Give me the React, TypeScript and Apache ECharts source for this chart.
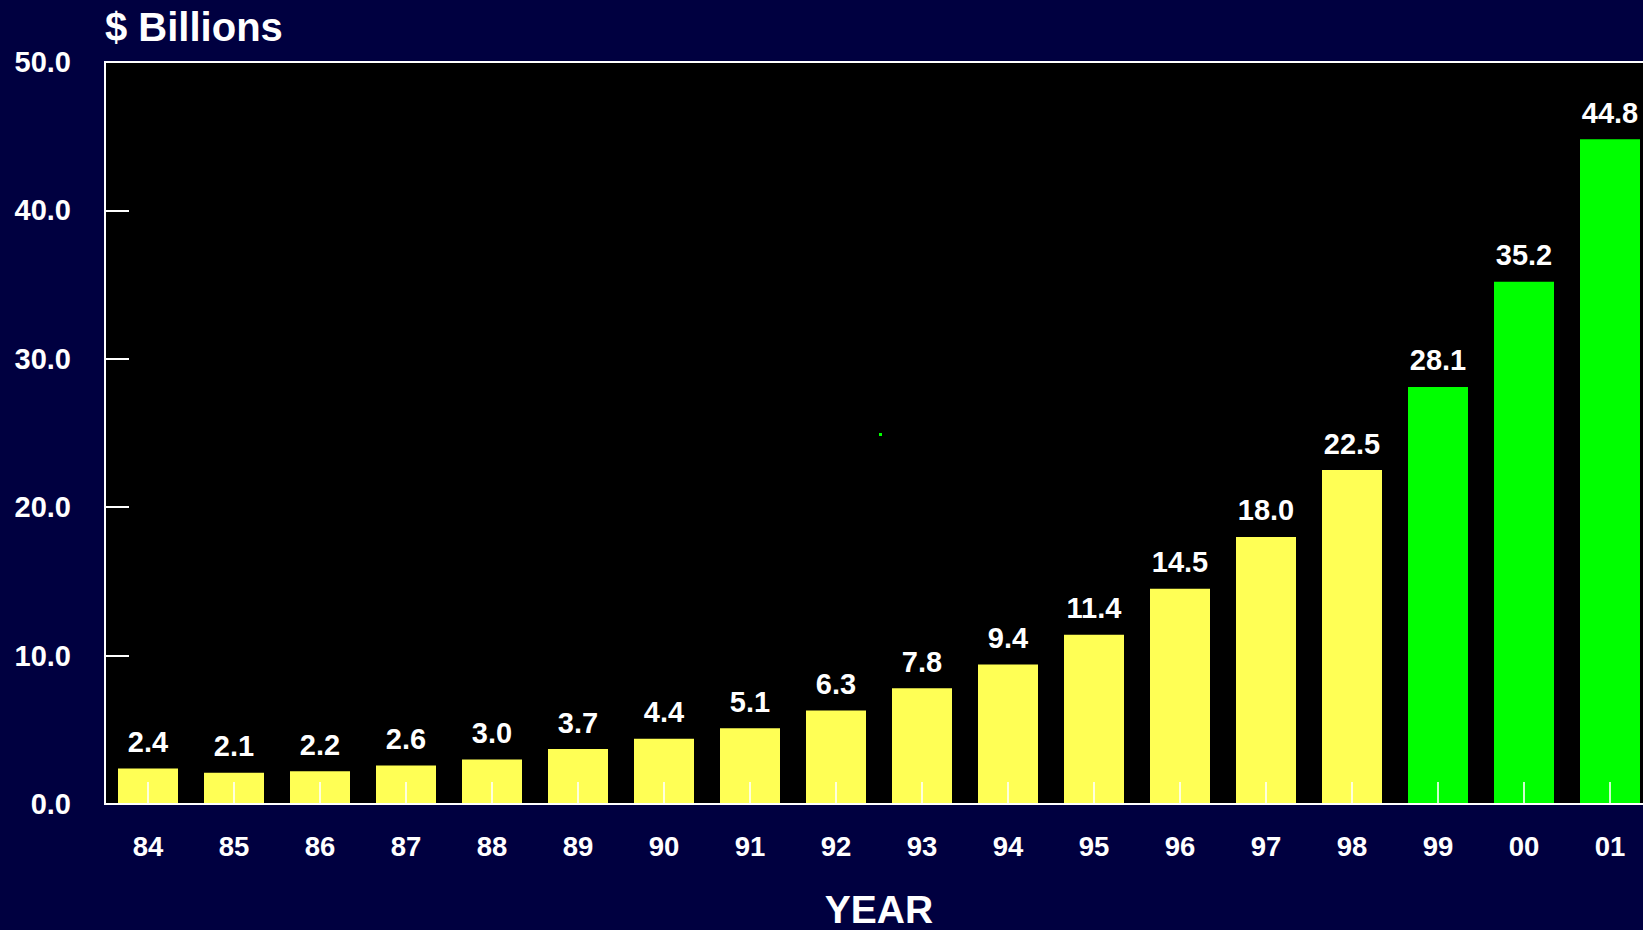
import React, { useEffect, useRef } from "react";
import * as echarts from "echarts";

const years = ["84", "85", "86", "87", "88", "89", "90", "91", "92", "93", "94", "95", "96", "97", "98", "99", "00", "01"];
const values = [2.4, 2.1, 2.2, 2.6, 3.0, 3.7, 4.4, 5.1, 6.3, 7.8, 9.4, 11.4, 14.5, 18.0, 22.5, 28.1, 35.2, 44.8];
const barColors = ["#FFFF55", "#FFFF55", "#FFFF55", "#FFFF55", "#FFFF55", "#FFFF55", "#FFFF55", "#FFFF55", "#FFFF55", "#FFFF55", "#FFFF55", "#FFFF55", "#FFFF55", "#FFFF55", "#FFFF55", "#00FF00", "#00FF00", "#00FF00"];
const yTitle = "$ Billions";
const xTitle = "YEAR";

const FONT = "'Liberation Sans', Arial, Helvetica, sans-serif";

export default function App() {
  const ref = useRef<HTMLDivElement>(null);
  useEffect(() => {
    document.body.style.margin = "0";
    document.body.style.overflow = "hidden";
    const chart = echarts.init(ref.current!, null, { renderer: "svg" });
    chart.setOption({
      animation: false,
      backgroundColor: "#000040",
      grid: {
        left: 105,
        top: 62,
        bottom: 126,
        right: 7,
        show: true,
        backgroundColor: "#000000",
        borderColor: "#ffffff",
        borderWidth: 2,
      },
      xAxis: {
        type: "category",
        data: years,
        z: 5,
        axisLine: { lineStyle: { color: "#ffffff", width: 2 } },
        axisTick: { show: false },
        axisLabel: { color: "#ffffff", fontSize: 27.5, fontWeight: "bold", fontFamily: FONT, margin: 28 },
      },
      yAxis: {
        type: "value",
        min: 0,
        max: 50,
        interval: 10,
        z: 5,
        splitLine: { show: false },
        axisLine: { show: true, lineStyle: { color: "#ffffff", width: 2 } },
        axisTick: { show: true, inside: true, length: 24, lineStyle: { color: "#ffffff", width: 2 } },
        axisLabel: {
          color: "#ffffff",
          fontSize: 29,
          fontWeight: "bold",
          fontFamily: FONT,
          margin: 34,
          formatter: (v: number) => v.toFixed(1),
        },
      },
      series: [
        {
          type: "bar",
          barWidth: 60,
          z: 2,
          data: values.map((v, i) => ({ value: v, itemStyle: { color: barColors[i] } })),
          label: {
            show: true,
            position: "top",
            distance: 12,
            color: "#ffffff",
            fontSize: 29,
            fontWeight: "bold",
            fontFamily: FONT,
            formatter: (p: any) => Number(p.value).toFixed(1),
          },
        },
        {
          type: "scatter",
          silent: true,
          z: 10,
          symbol: "rect",
          symbolSize: [2, 22],
          symbolOffset: [0, -11],
          itemStyle: { color: "#ffffff" },
          data: years.map((y) => [y, 0]),
        },
      ],
      graphic: [
        {
          type: "text",
          left: 105,
          top: 7,
          style: { text: yTitle, fill: "#ffffff", font: `bold 40px ${FONT}` },
        },
        {
          type: "text",
          x: 879,
          y: 909,
          style: { text: xTitle, fill: "#ffffff", font: `bold 39px ${FONT}`, textAlign: "center", textVerticalAlign: "middle" },
        },
        {
          type: "rect",
          shape: { x: 879, y: 433, width: 3, height: 3 },
          style: { fill: "#00FF00" },
          z: 10,
        },
      ],
    });
    return () => chart.dispose();
  }, []);
  return <div ref={ref} style={{ position: "fixed", left: 0, top: 0, width: 1660, height: 930 }} />;
}
